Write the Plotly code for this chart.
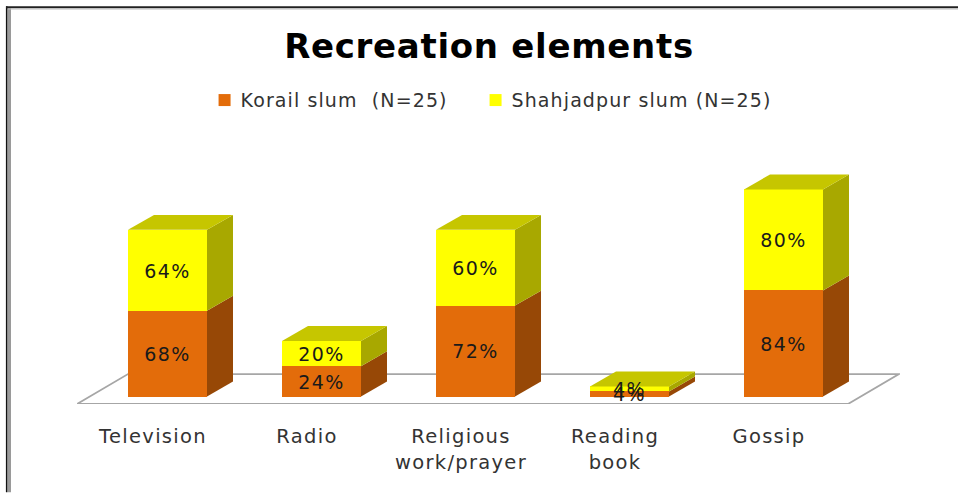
import plotly.graph_objects as go

categories = ["Television", "Radio", "Religious", "Reading", "Gossip"]
tick_labels = ["Television", "Radio", "Religious<br>work/prayer", "Reading<br>book", "Gossip"]
korail = [68, 24, 72, 4, 84]
shahjadpur = [64, 20, 60, 4, 80]
korail_name = "Korail slum\u00a0\u00a0(N=25)"
shahjadpur_name = "Shahjadpur slum (N=25)"
title_text = "Recreation elements"

W, H = 958, 493
L, R, T, B = 77, 900, 150, 404.5        # plot-area pixels
PX_CAT, PX_VAL = 154.0, 1.265           # pixels per category / per percent
X0_PX, Y0_PX = 167.5, 397.0             # pixel of category 0 / of value 0
BAR_W = 79 / PX_CAT
DX, DY = 26 / PX_CAT, 15 / PX_VAL       # bar depth in axis units
TICK_SHIFT = -14.5 / PX_CAT             # labels sit under the front edge of the floor
LABEL_SHIFT = -2.5 / PX_VAL             # optical centring of data labels

x_range = [(L - X0_PX) / PX_CAT, (R - X0_PX) / PX_CAT]
y_range = [(Y0_PX - B) / PX_VAL, (Y0_PX - T) / PX_VAL]
pos = list(range(len(categories)))

ORANGE, ORANGE_SIDE = "#E36C0A", "#974806"
YELLOW, YELLOW_SIDE, YELLOW_TOP = "#FFFF00", "#A8A800", "#C6C600"

fig = go.Figure()

# front faces
fig.add_bar(x=pos, y=korail, width=BAR_W, name=korail_name, marker=dict(color=ORANGE, line_width=0))
fig.add_bar(x=pos, y=shahjadpur, width=BAR_W, name=shahjadpur_name, marker=dict(color=YELLOW, line_width=0))


def poly(xs, ys, color):
    fig.add_scatter(x=xs, y=ys, mode="lines", fill="toself", fillcolor=color,
                    line=dict(width=0, color=color), showlegend=False, hoverinfo="skip")


for p, a, b in zip(pos, korail, shahjadpur):
    r = p + BAR_W / 2
    l = p - BAR_W / 2
    poly([r, r + DX, r + DX, r, r], [0, DY, a + DY, a, 0], ORANGE_SIDE)
    poly([r, r + DX, r + DX, r, r], [a, a + DY, a + b + DY, a + b, a], YELLOW_SIDE)
    poly([l, l + DX, r + DX, r, l], [a + b, a + b + DY, a + b + DY, a + b, a + b], YELLOW_TOP)

# data labels
label_font = dict(family="DejaVu Sans", size=19, color="#1a1a1a")
fig.add_scatter(x=pos, y=[a / 2 + LABEL_SHIFT for a in korail], mode="text", text=[f"{a}%" for a in korail],
                textposition="middle center", showlegend=False, hoverinfo="skip", textfont=label_font)
fig.add_scatter(x=pos, y=[a + b / 2 + LABEL_SHIFT for a, b in zip(korail, shahjadpur)], mode="text",
                text=[f"{b}%" for b in shahjadpur], textposition="middle center",
                showlegend=False, hoverinfo="skip", textfont=label_font)

# floor
fx0, fx1 = x_range[0], (848 - X0_PX) / PX_CAT
fdx, fdy = 51 / PX_CAT, 30 / PX_VAL
fy0 = y_range[0]
floor_path = (f"M{fx0},{fy0} L{fx1},{fy0} L{fx1 + fdx},{fy0 + fdy} "
              f"L{fx0 + fdx},{fy0 + fdy} Z")
shapes = [dict(type="path", path=floor_path, xref="x", yref="y", layer="below",
               fillcolor="white", line=dict(color="#A6A6A6", width=1.8))]


# frame, in paper coordinates of the plot area
def px(v):
    return (v - L) / (R - L)


def py(v):
    return (B - v) / (B - T)


for x0, y0, x1, y1, c, w in [
    (6.7, 6, 6.7, 493, "#111111", 1.6),
    (9.5, 8, 9.5, 493, "#9A9A9A", 3),
    (6, 7, 958, 7, "#222222", 2),
    (8, 8.7, 958, 8.7, "#BBBBBB", 1.2),
]:
    shapes.append(dict(type="line", xref="paper", yref="paper", x0=px(x0), x1=px(x1),
                       y0=py(y0), y1=py(y1), line=dict(color=c, width=w)))

fig.update_layout(
    width=W, height=H, barmode="stack", bargap=0,
    margin=dict(l=L, r=W - R, t=T, b=H - B, pad=0, autoexpand=False),
    paper_bgcolor="white", plot_bgcolor="rgba(0,0,0,0)",
    shapes=shapes,
    title=dict(text=f"<b>{title_text}</b>", x=489 / W, xanchor="center", y=1 - 46 / H, yanchor="middle",
               font=dict(family="DejaVu Sans", size=34, color="black")),
    legend=dict(orientation="h", x=0.155, xref="paper", y=1.196, yanchor="middle",
                font=dict(family="DejaVu Sans", size=19, color="#333333"),
                entrywidth=226, entrywidthmode="pixels", bgcolor="rgba(0,0,0,0)", traceorder="normal"),
    xaxis=dict(range=x_range, tickmode="array", tickvals=[p + TICK_SHIFT for p in pos], ticktext=tick_labels,
               showgrid=False, zeroline=False, showline=False, ticks="outside", ticklen=15,
               tickcolor="rgba(0,0,0,0)",
               tickfont=dict(family="DejaVu Sans", size=19.5, color="#333333")),
    yaxis=dict(range=y_range, visible=False),
)

css = (".xtick text{letter-spacing:1.3px}"
       ".legendtext{letter-spacing:1.1px;transform:translateX(-4px)}"
       ".textpoint text{letter-spacing:1.5px}"
       ".gtitle{letter-spacing:0.7px}"
       ".legend .scrollbox{clip-path:none !important}")
post = ("document.body.style.margin='0';"
        "var s=document.createElement('style');s.textContent=" + repr(css) + ";document.head.appendChild(s);")
fig.write_html("out.html", post_script=post, config={"displayModeBar": False})
